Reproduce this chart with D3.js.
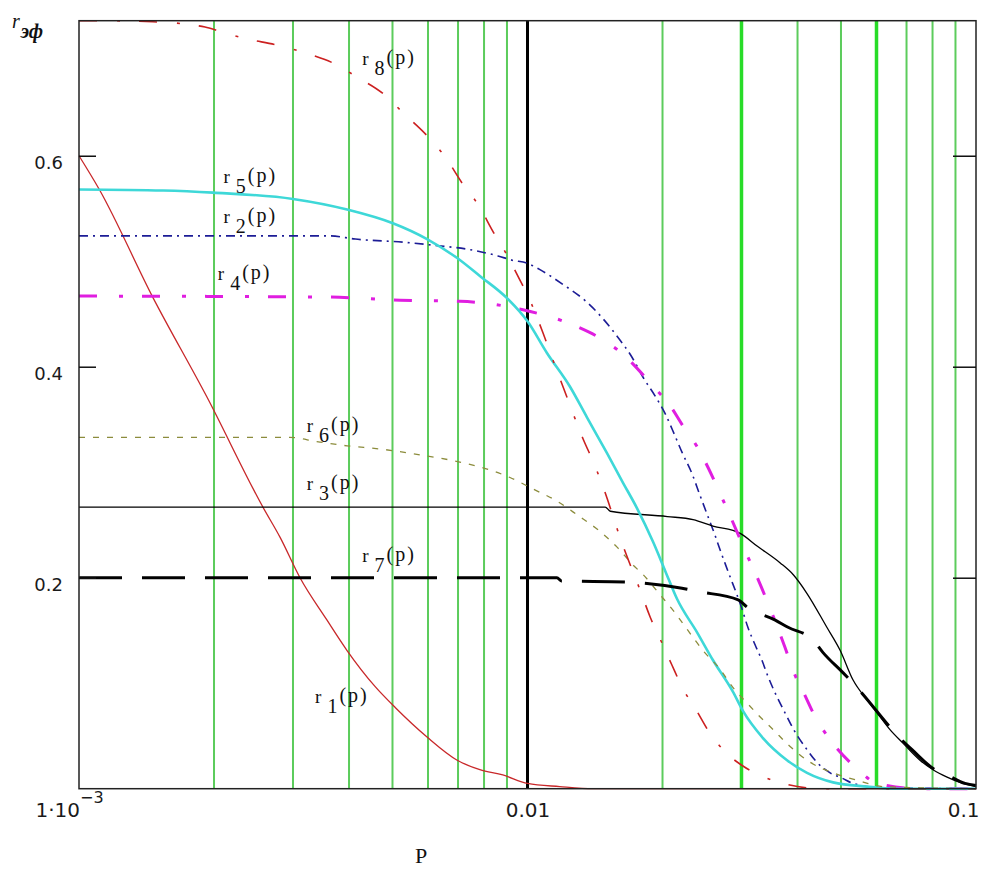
<!DOCTYPE html>
<html>
<head>
<meta charset="utf-8">
<script src="https://cdn.jsdelivr.net/npm/d3@7"></script>
<style>
  body { margin: 0; background: #fff; }
  svg { display: block; background: #fff; }
  .tick text { font-family: "DejaVu Sans", sans-serif; fill: #1a1a1a; }
  .lbl { font-family: "Liberation Serif", serif; fill: #111; }
</style>
</head>
<body>
<svg width="999" height="869"></svg>
<script>
// p values (log axis) and r values
let r1 = [[0.001,0.600],[0.00111,0.568],[0.00146,0.466],[0.00193,0.371],[0.00257,0.267],[0.00281,0.238],
  [0.00311,0.200],[0.00357,0.160],[0.00396,0.131],[0.00457,0.097],[0.00507,0.077],[0.00597,0.049],
  [0.00697,0.027],[0.00783,0.018],[0.00881,0.013],[0.0100,0.005],[0.0118,0.002],[0.0140,0],[0.1,0]];

let r2 = [[0.001,0.524],[0.00363,0.524],[0.00413,0.521],[0.0053,0.518],[0.00622,0.515],[0.00744,0.511],
  [0.00859,0.505],[0.00924,0.501],[0.0100,0.498],[0.01066,0.492],[0.0120,0.478],[0.0135,0.462],
  [0.0147,0.446],[0.0159,0.428],[0.0171,0.409],[0.0181,0.390],[0.0194,0.370],[0.0203,0.355],
  [0.0213,0.335],[0.0221,0.319],[0.0233,0.298],[0.0242,0.279],[0.0251,0.261],[0.0262,0.240],
  [0.0269,0.226],[0.0280,0.206],[0.0301,0.170],[0.0310,0.153],[0.0322,0.136],[0.0333,0.122],
  [0.0344,0.106],[0.0360,0.087],[0.0375,0.072],[0.0391,0.057],[0.0420,0.037],[0.0442,0.025],
  [0.0473,0.015],[0.0503,0.010],[0.0532,0.005],[0.0611,0.001],[0.1,0]];

let r3 = [[0.001,0.267],[0.0149,0.267],[0.0153,0.263],[0.0205,0.258],[0.0234,0.255],[0.0259,0.249],
  [0.0298,0.242],[0.0325,0.230],[0.0366,0.214],[0.0391,0.203],[0.0420,0.185],[0.0465,0.153],
  [0.0498,0.131],[0.0532,0.103],[0.0572,0.084],[0.0602,0.072],[0.0643,0.056],[0.0688,0.043],
  [0.0750,0.027],[0.0802,0.018],[0.0862,0.011],[0.0921,0.006],[0.1,0.002]];

let r4 = [[0.001,0.467],[0.00363,0.466],[0.0052,0.463],[0.00707,0.462],[0.00977,0.454],[0.0129,0.438],
  [0.0144,0.428],[0.0161,0.414],[0.0192,0.380],[0.0208,0.363],[0.0222,0.344],[0.0239,0.324],
  [0.0253,0.304],[0.0266,0.284],[0.0280,0.263],[0.0309,0.221],[0.0327,0.198],[0.0342,0.178],
  [0.0375,0.134],[0.0391,0.112],[0.0416,0.088],[0.0438,0.068],[0.0468,0.049],[0.0546,0.018],
  [0.0602,0.005],[0.0750,0],[0.1,0]];

let r5 = [[0.001,0.568],[0.00154,0.567],[0.00199,0.565],[0.0030,0.559],[0.00396,0.549],
  [0.00501,0.536],[0.00597,0.521],[0.00697,0.503],[0.00783,0.486],[0.0090,0.465],
  [0.0100,0.443],[0.01105,0.413],[0.01244,0.381],[0.01357,0.352],[0.01504,0.318],[0.01633,0.290],
  [0.01754,0.266],[0.01905,0.234],[0.0203,0.206],[0.02154,0.180],[0.0239,0.148],[0.0259,0.122],
  [0.0287,0.092],[0.0302,0.074],[0.0335,0.048],[0.0379,0.027],[0.0420,0.015],[0.0480,0.006],
  [0.0572,0.002],[0.0661,0],[0.1,0]];

let r6 = [[0.001,0.333],[0.00295,0.333],[0.00339,0.329],[0.00396,0.325],[0.00469,0.322],[0.00585,0.316],
  [0.00682,0.311],[0.00783,0.305],[0.00914,0.295],[0.0103,0.284],[0.0117,0.272],[0.01296,0.259],
  [0.0144,0.245],[0.01584,0.229],[0.01719,0.212],[0.0181,0.203],[0.01974,0.184],[0.0213,0.167],
  [0.02279,0.150],[0.02462,0.131],[0.0269,0.113],[0.0287,0.096],[0.0309,0.081],[0.0325,0.071],
  [0.0353,0.056],[0.0385,0.040],[0.0427,0.025],[0.0480,0.015],[0.0543,0.008],[0.062,0.002],[0.1,0]];

let r7 = [[0.001,0.200],[0.01163,0.200],[0.0119,0.197],[0.0165,0.196],[0.0181,0.195],[0.0221,0.190],
  [0.0239,0.187],[0.0295,0.179],[0.0309,0.172],[0.0356,0.160],[0.0381,0.153],[0.0433,0.141],
  [0.0456,0.129],[0.0505,0.110],[0.0532,0.100],[0.0684,0.046],[0.0720,0.037],[0.0810,0.018],
  [0.0862,0.013],[0.0945,0.005],[0.1,0.003]];

let r8 = [[0.001,0.728],[0.00111,0.728],[0.00146,0.727],[0.00191,0.722],[0.00206,0.718],[0.00235,0.711],
  [0.00276,0.705],[0.00322,0.697],[0.00368,0.688],[0.00419,0.674],[0.00476,0.659],[0.00533,0.639],
  [0.00594,0.620],[0.00655,0.599],[0.00715,0.574],[0.00783,0.551],[0.00833,0.530],[0.00905,0.504],
  [0.00962,0.482],[0.0100,0.468],[0.01083,0.432],[0.0114,0.406],[0.0120,0.381],[0.01329,0.332],
  [0.01414,0.306],[0.01474,0.286],[0.01624,0.233],[0.01791,0.186],[0.01876,0.163],[0.01995,0.138],
  [0.0210,0.117],[0.0222,0.095],[0.0239,0.073],[0.0253,0.055],[0.02757,0.035],[0.0301,0.022],
  [0.0333,0.012],[0.0379,0.004],[0.0450,0],[0.1,0]];

let seriesNames = ["1", "2", "3", "4", "5", "6", "7", "8"];
let seriesValues = [r1, r2, r3, r4, r5, r6, r7, r8];
// where each curve name sits, in (p, r)
let labelAt = [[0.00336,0.081],[0.0021,0.536],[0.00322,0.283],[0.00204,0.482],
  [0.0021,0.574],[0.00322,0.338],[0.00428,0.215],[0.00428,0.686]];

let xTicks = [0.001, 0.01, 0.1],
    yTicks = [0.2, 0.4, 0.6],
    gridP = [0.002, 0.003, 0.004, 0.005, 0.006, 0.007, 0.008, 0.009,
             0.02, 0.03, 0.04, 0.05, 0.06, 0.07, 0.08, 0.09],
    boldGridP = [0.03, 0.06],
    markerP = 0.01,
    xDomain = [0.001, 0.1],
    yDomain = [0, 0.728];

// styles per series, same order as seriesNames
let styles = [
  {color: "#c8282a", width: 1.3, dash: null},
  {color: "#1c1c96", width: 1.6, dash: "9,5,2,5"},
  {color: "#000000", width: 1.3, dash: null},
  {color: "#e01ee0", width: 3, dash: "18,22,4,19"},
  {color: "#3ed8d8", width: 2.6, dash: null},
  {color: "#8c8c3c", width: 1.3, dash: "6,8"},
  {color: "#000000", width: 3, dash: "43,20"},
  {color: "#cc2020", width: 1.6, dash: "18,20,3,19"}
];

let svg = d3.select("svg"),
    margin = {top: 20.7, right: 23, bottom: 80.3, left: 79},
    width = svg.attr("width") - margin.left - margin.right,
    height = svg.attr("height") - margin.top - margin.bottom,
    g = svg.append("g").attr("transform", "translate(" + margin.left + "," + margin.top + ")");

let x = d3.scaleLog().domain(xDomain).range([0, width]),
    y = d3.scaleLinear().domain(yDomain).range([height, 0]);

// green grid lines
g.selectAll(".grid")
    .data(gridP)
    .enter().append("line")
    .attr("class", "grid")
    .attr("x1", function(d) { return x(d); })
    .attr("x2", function(d) { return x(d); })
    .attr("y1", 0)
    .attr("y2", height)
    .style("stroke", function(d) { return boldGridP.indexOf(d) >= 0 ? "#28dc28" : "#5ccc5c"; })
    .style("stroke-width", function(d) { return boldGridP.indexOf(d) >= 0 ? 3.5 : 2; });

// marker at p = 0.01
g.append("line")
    .attr("x1", x(markerP)).attr("x2", x(markerP))
    .attr("y1", 0).attr("y2", height)
    .style("stroke", "#000")
    .style("stroke-width", 3);

let line = d3.line()
    .curve(d3.curveMonotoneX)
    .x(function(d) { return x(d[0]); })
    .y(function(d) { return y(d[1]); });

let curves = seriesNames.map(function(n, i) {
  return {id: n, values: seriesValues[i], style: styles[i], at: labelAt[i]};
});

g.selectAll(".curve")
    .data(curves)
    .enter().append("path")
    .attr("class", "curve")
    .attr("d", function(d) { return line(d.values); })
    .style("fill", "none")
    .style("stroke", function(d) { return d.style.color; })
    .style("stroke-width", function(d) { return d.style.width; })
    .style("stroke-dasharray", function(d) { return d.style.dash; });

// frame
g.append("rect")
    .attr("width", width)
    .attr("height", height)
    .style("fill", "none")
    .style("stroke", "#222")
    .style("stroke-width", 1.5);

// axes
let yAxis = g.append("g")
    .call(d3.axisLeft(y).tickValues(yTicks).tickSize(-17).tickPadding(16).tickFormat(d3.format(".1f")));
yAxis.select(".domain").remove();
yAxis.selectAll(".tick line").style("stroke", "#111").style("stroke-width", 1.5);
yAxis.selectAll(".tick text").attr("dy", "0.7em").style("font-size", "18px");

let yAxisR = g.append("g")
    .attr("transform", "translate(" + width + ",0)")
    .call(d3.axisRight(y).tickValues(yTicks).tickSize(-23).tickFormat(""));
yAxisR.select(".domain").remove();
yAxisR.selectAll(".tick line").style("stroke", "#111").style("stroke-width", 1.5);

let xAxis = g.append("g")
    .attr("transform", "translate(0," + height + ")")
    .call(d3.axisBottom(x).tickValues(xTicks).tickSize(0).tickPadding(14)
        .tickFormat(function(d) { return d === 0.1 ? "0.1" : d === 0.01 ? "0.01" : ""; }));
xAxis.select(".domain").remove();
xAxis.selectAll(".tick text").style("font-size", "20px");
xAxis.selectAll(".tick text").filter(function(d) { return d === 0.1; })
    .attr("text-anchor", "end").attr("dx", 3);
let first = xAxis.selectAll(".tick text").filter(function(d) { return d === 0.001; })
    .attr("text-anchor", "start").attr("x", -44);
first.append("tspan").text("1·10");
first.append("tspan").attr("dy", -14).style("font-size", "16px").text("\u22123");

// axis titles
g.append("text")
    .attr("class", "lbl")
    .attr("x", 342)
    .attr("y", height + 74)
    .attr("text-anchor", "middle")
    .style("font-size", "22px")
    .text("P");

let yt = svg.append("text")
    .attr("class", "lbl")
    .attr("x", 12)
    .attr("y", 28)
    .style("font-style", "italic")
    .style("font-size", "20px")
    .text("r");
yt.append("tspan").attr("dx", 1).attr("dy", 10).style("font-size", "20px").style("font-weight", "bold").text("эф");

// curve names  r n(p)
let lbl = g.selectAll(".cname")
    .data(curves)
    .enter().append("text")
    .attr("class", "lbl cname")
    .attr("transform", function(d) { return "translate(" + x(d.at[0]) + "," + y(d.at[1]) + ")"; })
    .style("font-size", "19px");
lbl.append("tspan").text("r");
lbl.append("tspan").attr("dx", 6).attr("dy", 10).style("font-size", "20px").text(function(d) { return d.id; });
lbl.append("tspan").attr("dx", 2).attr("dy", -11).style("font-size", "20px").style("letter-spacing", "2px").text("(p)");
</script>
</body>
</html>
